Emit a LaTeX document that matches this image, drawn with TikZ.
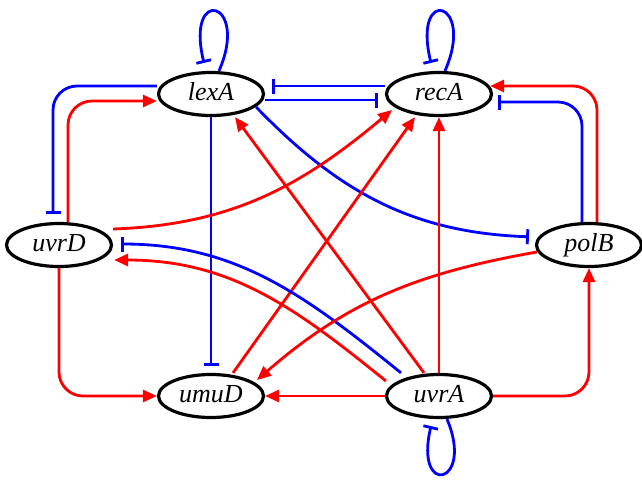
\documentclass[tikz,border=0pt]{standalone}
\usepackage{fontspec}
\setmainfont{Liberation Serif}
\usetikzlibrary{arrows.meta,calc,shapes.geometric}
\begin{document}
\begin{tikzpicture}[x=1pt,y=-1pt,
  gene/.style={draw=black, line width=3.2pt, ellipse, minimum width=105pt,
    minimum height=43pt, inner sep=0pt, font=\fontsize{26}{30}\selectfont\itshape,
    text height=18pt, text depth=6pt},
  act/.style={draw=red, line width=2.8pt, -{Triangle[length=14pt,width=12pt]}},
  inh/.style={draw=blue, line width=2.8pt, -{Bar[width=15pt]}},
]
\useasboundingbox (0,0) rectangle (642,479);

% genes
\node[gene] (lexA) at (211,94)  {lexA};
\node[gene] (recA) at (439,94)  {recA};
\node[gene] (uvrD) at (59,245)  {uvrD};
\node[gene] (polB) at (589,245) {polB};
\node[gene] (umuD) at (211,396) {umuD};
\node[gene] (uvrA) at (439,396) {uvrA};

% self-repression loops
\draw[inh] ($(lexA.north)+(8,0)$) .. controls +(31,-71) and +(-19,-78) .. ($(lexA.north)+(-7,-8)$);
\draw[inh] ($(recA.north)+(6,0)$) .. controls +(31,-71) and +(-19,-78) .. ($(recA.north)+(-8,-8)$);
\draw[inh] ($(uvrA.south)+(8,0)$) .. controls +(28,66) and +(-17,72) .. ($(uvrA.south)+(-8,7)$);

% lexA <-> recA
\draw[inh, shorten >=7pt] ($(recA.west)+(0,-8)$) -- ($(lexA.east)+(0,-8)$);
\draw[inh, shorten >=7pt] ($(lexA.east)+(0,6)$) -- ($(recA.west)+(0,6)$);

% lexA <-> uvrD
\draw[inh, rounded corners=24pt, shorten >=8pt] ($(lexA.west)+(0,-8)$) -| ($(uvrD.north)+(-6,0)$);
\draw[act, rounded corners=24pt] ($(uvrD.north)+(9,0)$) |- ($(lexA.west)+(0,7)$);

% lexA represses umuD and polB
\draw[inh, shorten >=7pt] (lexA.south) -- (umuD.north);
\draw[inh, shorten >=6pt] ($(lexA.east)+(-9,13)$) to[out=-46, in=178] ($(polB.west)+(0,-8)$);

% polB <-> recA
\draw[act, rounded corners=24pt] ($(polB.north)+(8,0)$) |- ($(recA.east)+(-3,-8)$);
\draw[inh, rounded corners=24pt, shorten >=8pt] ($(polB.north)+(-7,0)$) |- ($(recA.east)+(-3,8)$);

% activations of recA
\draw[act] ($(uvrD.east)+(0,-16)$) to[out=2, in=220] ($(recA)+(-47,16)$);
\draw[act] ($(umuD.north)+(22,0)$) -- ($(recA.south)+(-24,0)$);
\draw[act] (uvrA.north) -- (recA.south);

% uvrA targets
\draw[act] ($(uvrA.north)+(-15,0)$) -- ($(lexA.south)+(24,0)$);
\draw[act] (uvrA.west) -- (umuD.east);
\draw[act, rounded corners=24pt] (uvrA.east) -| (polB.south);
\draw[inh, shorten >=8pt] ($(uvrA.north)+(-38,0)$) to[out=141, in=0] ($(uvrD.east)+(0,-1)$);
\draw[act] ($(uvrA.west)+(1,-15)$) to[out=141, in=0] ($(uvrD.east)+(1,15)$);

% uvrD and polB activate umuD
\draw[act, rounded corners=24pt] (uvrD.south) |- (umuD.west);
\draw[act] ($(polB.west)+(2,7)$) to[out=190, in=41] ($(umuD)+(46,-16)$);
\end{tikzpicture}
\end{document}
